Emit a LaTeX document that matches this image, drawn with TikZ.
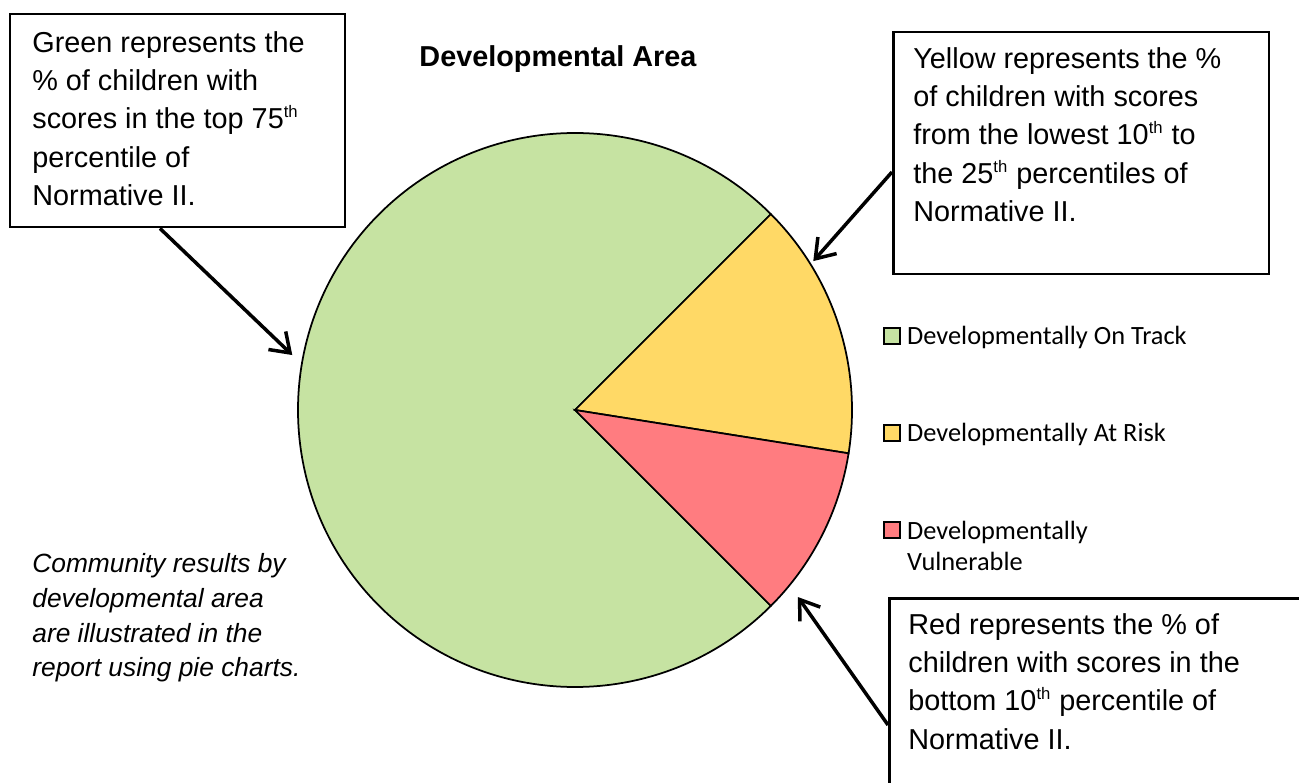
\documentclass[tikz,border=0pt]{standalone}
\usepackage{fontspec}
\setmainfont{Liberation Sans}
\newfontfamily\legendfont{Carlito}
\usepackage{tikz}
\usetikzlibrary{arrows.meta, calc, positioning}

\definecolor{ontrack}{HTML}{C6E3A2}
\definecolor{atrisk}{HTML}{FFD966}
\definecolor{vulnerable}{HTML}{FF7C80}
\newcommand{\ordsup}[1]{\textsuperscript{\fontsize{9.5}{9.5}\selectfont #1}}

\begin{document}
\begin{tikzpicture}[x=0.02cm, y=0.02cm,
    callout/.style={draw, line width=0.05cm, inner sep=0pt},
    callouttext/.style={align=left, inner sep=0pt, anchor=north west, font=\fontsize{16.4}{21.8}\selectfont},
    pointer/.style={line width=0.07cm, -{Straight Barb[length=0.36cm, width=0.5cm]}},
    slice/.style={draw, line width=0.035cm},
    keybox/.style={draw, line width=0.035cm, minimum size=0.32cm, inner sep=0pt},
    keytext/.style={align=left, inner sep=0pt, font=\legendfont\fontsize{15}{18.1}\selectfont}]

        % Khung hình
        \useasboundingbox (0,0) rectangle (1299,782);

        % Vẽ biểu đồ tròn
        \coordinate (pie) at (575,372);
        \filldraw[slice, fill=ontrack] (pie) -- ++(45:277) arc[start angle=45, end angle=315, radius=277] -- cycle; % 75%
        \filldraw[slice, fill=atrisk] (pie) -- ++(-9:277) arc[start angle=-9, end angle=45, radius=277] -- cycle; % 15%
        \filldraw[slice, fill=vulnerable] (pie) -- ++(-45:277) arc[start angle=-45, end angle=-9, radius=277] -- cycle; % 10%

        % Tiêu đề
        \node[anchor=base, inner sep=0pt, font=\fontsize{16.4}{21.8}\selectfont\bfseries] (title) at (558,715) {Developmental Area};

        % Các khung chú thích
        \node[callout, minimum width=6.7cm, minimum height=4.26cm, anchor=north west] (greenbox) at (9,769) {};
        \node[callout, minimum width=7.52cm, minimum height=4.84cm, anchor=north west] (yellowbox) at (892,751) {};
        \node[callout, minimum width=8.4cm, minimum height=4cm, anchor=north west] (redbox) at (888,185) {};

        \node[callouttext] (greentext) at (32,751) {Green represents the\\\% of children with\\scores in the top 75\ordsup{th}\\percentile of\\Normative II.};
        \node[callouttext] (yellowtext) at (913,735) {Yellow represents the \%\\of children with scores\\from the lowest 10\ordsup{th} to\\the 25\ordsup{th} percentiles of\\Normative II.};
        \node[callouttext] (redtext) at (908,169) {Red represents the \% of\\children with scores in the\\bottom 10\ordsup{th} percentile of\\Normative II.};

        % Ghi chú in nghiêng
        \node[callouttext, font=\fontsize{15}{19.8}\selectfont\itshape] (note) at (32,229) {Community results by\\developmental area\\are illustrated in the\\report using pie charts.};

        % Chú giải
        \node[keybox, fill=ontrack] (keyon) at (892,446) {};
        \node[keytext, right=0.12cm of keyon.south east, anchor=base west] (keyontext) {Developmentally On Track};
        \node[keybox, fill=atrisk] (keyrisk) at (892,349) {};
        \node[keytext, right=0.12cm of keyrisk.south east, anchor=base west] (keyrisktext) {Developmentally At Risk};
        \node[keybox, fill=vulnerable] (keyvul) at (892,252) {};
        \node[keytext, right=0.12cm of keyvul.south east, anchor=base west, yshift=-0.64cm] (keyvultext) {Developmentally\\Vulnerable};

        % Mũi tên chỉ vào các phần
        \coordinate (greentip) at ($(pie)+(169:288)$);
        \coordinate (yellowtip) at ($(pie)+(32:281)$);
        \coordinate (redtip) at ($(pie)+(-40:291)$);
        \draw[pointer] ($(greenbox.south west)+(151,0)$) -- (greentip);
        \draw[pointer] ($(yellowbox.north west)+(0,-141)$) -- (yellowtip);
        \draw[pointer] ($(redbox.north west)+(0,-128)$) -- (redtip);

\end{tikzpicture}
\end{document}
